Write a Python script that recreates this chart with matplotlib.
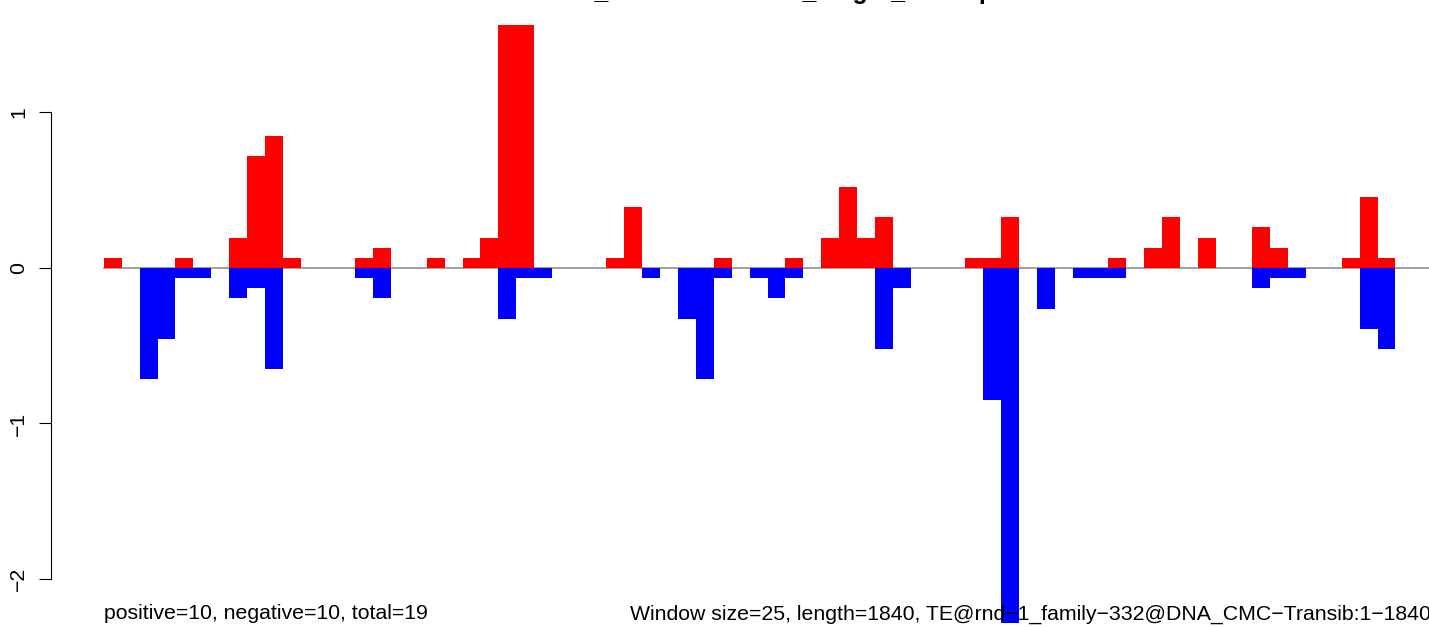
import matplotlib.pyplot as plt

plt.rcParams['font.family'] = ['Liberation Sans', 'DejaVu Sans']

# windows of 25 bp along a 1840 bp element
n_windows = 74

# window index -> positive (red) value
pos_idx = [0, 4, 7, 8, 9, 10, 14, 15, 18, 20, 21, 22, 23, 28, 29, 34, 38, 40, 41,
           42, 43, 48, 49, 50, 56, 58, 59, 61, 64, 65, 69, 70, 71]
pos_val = [0.065, 0.065, 0.196, 0.717, 0.847, 0.065, 0.065, 0.130, 0.065, 0.065,
           0.196, 1.564, 1.564, 0.065, 0.391, 0.065, 0.065, 0.196, 0.522, 0.196,
           0.326, 0.065, 0.065, 0.326, 0.065, 0.130, 0.326, 0.196, 0.261, 0.130,
           0.065, 0.456, 0.065]

# window index -> negative (blue) value
neg_idx = [2, 3, 4, 5, 7, 8, 9, 14, 15, 22, 23, 24, 30, 32, 33, 34, 36, 37, 38,
           43, 44, 49, 50, 52, 54, 55, 56, 64, 65, 66, 70, 71]
neg_val = [-0.717, -0.456, -0.065, -0.065, -0.196, -0.130, -0.652, -0.065, -0.196,
           -0.326, -0.065, -0.065, -0.065, -0.326, -0.717, -0.065, -0.065, -0.196,
           -0.065, -0.522, -0.130, -0.847, -2.280, -0.261, -0.065, -0.065, -0.065,
           -0.130, -0.065, -0.065, -0.391, -0.522]

yticks = [-2, -1, 0, 1]
ytick_labels = ['\u22122', '\u22121', '0', '1']

title = 'rnd1_TEinsertionsites_height_overlap'
left_note = 'positive=10, negative=10, total=19'
right_note = ('Window size=25, length=1840, '
              'TE@rnd\u22121_family\u2212332@DNA_CMC\u2212Transib:1\u22121840')

fig = plt.figure(figsize=(14.29, 6.27), dpi=100)
# plot region is larger than the saved picture (cropped like the original)
ax = fig.add_axes([0.0354, -0.0303, 1.0034, 1.0287])

ax.axhline(0, xmin=0.037, xmax=1, color='#909090', lw=1.2, zorder=1)
ax.bar(pos_idx, pos_val, width=1.0, align='edge', color='#ff0000', lw=0, zorder=2)
ax.bar(neg_idx, neg_val, width=1.0, align='edge', color='#0000ff', lw=0, zorder=2)

ax.set_xlim(-0.04 * n_windows, 1.04 * n_windows)
ax.set_ylim(-2.431, 1.717)

for s in ['top', 'right', 'bottom']:
    ax.spines[s].set_visible(False)
ax.spines['left'].set_bounds(-2, 1)
ax.spines['left'].set_linewidth(0.8)
ax.set_xticks([])
ax.set_yticks(yticks)
ax.set_yticklabels(ytick_labels, rotation=90, va='center')
ax.tick_params(axis='y', direction='out', length=9, width=0.8, pad=7, labelsize=15.3)

ax.text(0, -2.225, left_note, ha='left', va='center', fontsize=15.3, zorder=3)
ax.text(n_windows, -2.225, right_note, ha='right', va='center', fontsize=15.3, zorder=3)

fig.text(0.537, 1 + 1.5 / 627, title, ha='center', va='baseline',
         fontsize=18, fontweight='bold')

fig.savefig('out.png', dpi=100)
